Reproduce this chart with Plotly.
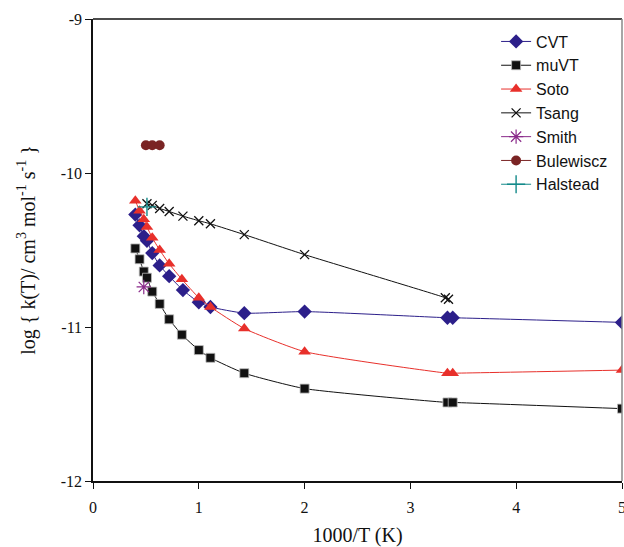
import plotly.graph_objects as go

# 1000/T (K) and log k(T) for each data set
cvt_x = [0.40, 0.44, 0.48, 0.51, 0.56, 0.63, 0.72, 0.85, 1.00, 1.11, 1.43, 2.00, 3.35, 3.40, 5.00]
cvt_y = [-10.27, -10.34, -10.41, -10.44, -10.52, -10.60, -10.67, -10.76, -10.84, -10.87, -10.91, -10.90, -10.94, -10.94, -10.97]

muvt_x = [0.40, 0.44, 0.48, 0.51, 0.56, 0.63, 0.72, 0.84, 1.00, 1.11, 1.43, 2.00, 3.35, 3.40, 5.00]
muvt_y = [-10.49, -10.56, -10.64, -10.68, -10.77, -10.85, -10.95, -11.05, -11.15, -11.20, -11.30, -11.40, -11.49, -11.49, -11.53]

soto_x = [0.40, 0.44, 0.48, 0.51, 0.56, 0.63, 0.72, 0.84, 1.00, 1.11, 1.43, 2.00, 3.35, 3.40, 5.00]
soto_y = [-10.18, -10.245, -10.30, -10.35, -10.42, -10.50, -10.59, -10.69, -10.81, -10.87, -11.01, -11.16, -11.30, -11.30, -11.28]

tsang_x = [0.51, 0.56, 0.63, 0.72, 0.85, 1.00, 1.11, 1.43, 2.00, 3.33, 3.36]
tsang_y = [-10.20, -10.21, -10.23, -10.25, -10.28, -10.31, -10.33, -10.40, -10.53, -10.81, -10.82]

smith_x = [0.48]
smith_y = [-10.74]

bulewiscz_x = [0.50, 0.56, 0.63]
bulewiscz_y = [-9.82, -9.82, -9.82]

halstead_x = [0.51]
halstead_y = [-10.22]

x_ticks = [0, 1, 2, 3, 4, 5]
y_ticks = [-12, -11, -10, -9]

series = [
    ("CVT", cvt_x, cvt_y, "#2c1f8a", dict(symbol="diamond", size=11)),
    ("muVT", muvt_x, muvt_y, "#111111", dict(symbol="square", size=9,
                                             line=dict(color="#bbbbbb", width=0.8))),
    ("Soto", soto_x, soto_y, "#e8302b", dict(symbol="triangle-up", size=11)),
    ("Tsang", tsang_x, tsang_y, "#111111", dict(symbol="x-thin-open", size=9,
                                               line=dict(color="#111111", width=1.3))),
    ("Smith", smith_x, smith_y, "#8a2a8a", dict(symbol="asterisk-open", size=12,
                                               line=dict(color="#8a2a8a", width=1.2))),
    ("Bulewiscz", bulewiscz_x, bulewiscz_y, "#7a2424", dict(symbol="circle", size=10)),
    ("Halstead", halstead_x, halstead_y, "#138a8a", dict(symbol="cross-thin-open", size=13,
                                                     line=dict(color="#138a8a", width=1.4))),
]

fig = go.Figure()
for name, xs, ys, color, marker in series:
    marker = dict(marker, color=color)
    fig.add_trace(go.Scatter(
        x=xs, y=ys, name=name, mode="lines+markers",
        line=dict(color=color, width=1, shape="spline", smoothing=0.5),
        marker=marker,
    ))

serif = "Liberation Serif, Times New Roman, serif"
fig.update_layout(
    width=624, height=547,
    margin=dict(l=93, r=2, t=19, b=66, autoexpand=False),
    plot_bgcolor="white", paper_bgcolor="white",
    showlegend=True,
    legend=dict(
        x=0.762, y=0.988, xanchor="left", yanchor="top",
        font=dict(family="Liberation Sans, Arial, sans-serif", size=16, color="#111"),
        bgcolor="rgba(0,0,0,0)", itemwidth=30, tracegroupgap=0,
    ),
    xaxis=dict(
        range=[0, 5], tickvals=x_ticks, ticktext=[str(v) for v in x_ticks],
        showgrid=False, zeroline=False, automargin=False,
        showline=True, linecolor="#111", linewidth=1.5,
        ticks="outside", ticklen=6, tickcolor="#111",
        ticklabelstandoff=5, ticklabeloverflow="allow",
        tickfont=dict(family=serif, size=16, color="#111"),
        title=dict(text="1000/T (K)", font=dict(family=serif, size=20, color="#111"),
                   standoff=14),
    ),
    yaxis=dict(
        range=[-12, -9], tickvals=y_ticks, ticktext=[str(v) for v in y_ticks],
        showgrid=False, zeroline=False, automargin=False,
        showline=True, linecolor="#111", linewidth=1.5,
        ticks="outside", ticklen=6, tickcolor="#111",
        tickfont=dict(family=serif, size=16, color="#111"),
        title=dict(text="log { k(T)/ cm<sup>3</sup> mol<sup>-1</sup> s<sup>-1</sup> }",
                   font=dict(family=serif, size=20, color="#111"), standoff=20),
    ),
    shapes=[
        # frame: top edge dark, right edge grey
        dict(type="line", xref="paper", yref="paper", x0=0, x1=1, y0=1, y1=1,
             line=dict(color="#111", width=1.5)),
        dict(type="line", xref="paper", yref="paper", x0=1, x1=1, y0=0, y1=1,
             line=dict(color="#888", width=1.5)),
    ],
)

fig.write_html("out.html")
